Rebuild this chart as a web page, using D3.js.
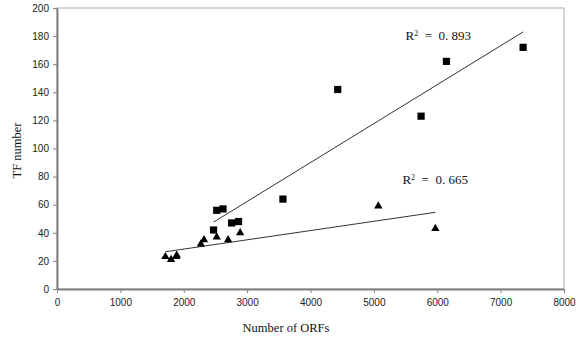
<!DOCTYPE html>
<html>
<head>
<meta charset="utf-8">
<script src="https://cdn.jsdelivr.net/npm/d3@7"></script>
<style>
  html, body { margin: 0; padding: 0; background: #fff; }
  svg { display: block; }
</style>
</head>
<body>
<div id="chart"></div>
<script>
// series 1 (squares)
const squareOrfs = [2470, 2520, 2620, 2755, 2865, 3565, 4430, 5745, 6145, 7355];
const squareTfs = [42, 56, 57, 47, 48, 64, 142, 123, 162, 172];
// series 2 (triangles)
const triangleOrfs = [1710, 1800, 1880, 1890, 2270, 2320, 2520, 2700, 2890, 5070, 5970];
const triangleTfs = [23, 21, 23, 24, 32, 35, 37, 35, 40, 59, 43];

const xTicks = [0, 1000, 2000, 3000, 4000, 5000, 6000, 7000, 8000];
const yTicks = [0, 20, 40, 60, 80, 100, 120, 140, 160, 180, 200];
const r2Labels = ["R² = 0. 893", "R² = 0. 665"];

const width = 576;
const height = 345;
const margin = { top: 8, right: 12, bottom: 56, left: 57 };

const svg = d3.select("#chart").append("svg")
    .attr("width", width)
    .attr("height", height);

const x = d3.scaleLinear().domain([0, 8000]).range([margin.left, width - margin.right]);
const y = d3.scaleLinear().domain([0, 200]).range([height - margin.bottom, margin.top]);

// box: light top/right, heavier left/bottom
svg.append("rect")
    .attr("x", x(0)).attr("y", y(200))
    .attr("width", x(8000) - x(0)).attr("height", y(0) - y(200))
    .attr("fill", "none").attr("stroke", "#b0b0b0").attr("stroke-width", 1);

const tickFont = "'Liberation Sans', Arial, sans-serif";

const xAxis = svg.append("g")
    .attr("transform", `translate(0,${y(0)})`)
    .call(d3.axisBottom(x).tickValues(xTicks).tickFormat(d3.format("d"))
        .tickSize(4).tickSizeOuter(0).tickPadding(6));
const yAxis = svg.append("g")
    .attr("transform", `translate(${x(0)},0)`)
    .call(d3.axisLeft(y).tickValues(yTicks).tickFormat(d3.format("d"))
        .tickSize(4).tickSizeOuter(0).tickPadding(4));

[xAxis, yAxis].forEach((axis) => {
    axis.select(".domain").attr("stroke", "#808080").attr("stroke-width", 2);
    axis.selectAll(".tick line").attr("stroke", "#808080");
    axis.selectAll(".tick text")
        .attr("fill", "#222")
        .style("font-family", tickFont)
        .style("font-size", "10px");
});

// least-squares trend line over each series' x range
const fit = (xs, ys) => {
    const mx = d3.mean(xs), my = d3.mean(ys);
    const sxy = d3.sum(xs, (v, i) => (v - mx) * (ys[i] - my));
    const sxx = d3.sum(xs, (v) => (v - mx) * (v - mx));
    const slope = sxy / sxx;
    const [x0, x1] = d3.extent(xs);
    return [[x0, my + slope * (x0 - mx)], [x1, my + slope * (x1 - mx)]];
};

const line = d3.line().x((d) => x(d[0])).y((d) => y(d[1]));
[fit(squareOrfs, squareTfs), fit(triangleOrfs, triangleTfs)].forEach((pts) => {
    svg.append("path")
        .attr("d", line(pts))
        .attr("fill", "none")
        .attr("stroke", "#333")
        .attr("stroke-width", 1);
});

// markers
svg.append("g").selectAll("path")
    .data(squareOrfs.map((v, i) => [v, squareTfs[i]]))
    .join("path")
    .attr("transform", (d) => `translate(${x(d[0])},${y(d[1])})`)
    .attr("d", d3.symbol(d3.symbolSquare, 52)())
    .attr("fill", "#000");

svg.append("g").selectAll("path")
    .data(triangleOrfs.map((v, i) => [v, triangleTfs[i]]))
    .join("path")
    .attr("transform", (d) => `translate(${x(d[0])},${y(d[1])})`)
    .attr("d", d3.symbol(d3.symbolTriangle, 30)())
    .attr("fill", "#000");

// R² annotations
const serif = "'Liberation Serif', 'Times New Roman', serif";
const r2Pos = [[5500, 177], [5450, 75]];
r2Labels.forEach((t, i) => {
    const label = svg.append("text")
        .attr("x", x(r2Pos[i][0]))
        .attr("y", y(r2Pos[i][1]))
        .attr("fill", "#111")
        .style("font-family", serif)
        .style("font-size", "13px");
    const parts = t.split("²");
    label.append("tspan").text(parts[0]);
    label.append("tspan").attr("dy", -4).style("font-size", "8px").text("2");
    label.append("tspan").attr("dy", 4).attr("xml:space", "preserve").text(parts[1].replace(/ = /, "  =  "));
});

// axis titles
svg.append("text")
    .attr("x", 286)
    .attr("y", 332)
    .attr("text-anchor", "middle")
    .attr("fill", "#111")
    .style("font-family", serif)
    .style("font-size", "12.5px")
    .text("Number of ORFs");

svg.append("text")
    .attr("transform", `translate(21,${y(100) + 2}) rotate(-90)`)
    .attr("text-anchor", "middle")
    .attr("fill", "#111")
    .style("font-family", serif)
    .style("font-size", "12.5px")
    .text("TF number");
</script>
</body>
</html>
